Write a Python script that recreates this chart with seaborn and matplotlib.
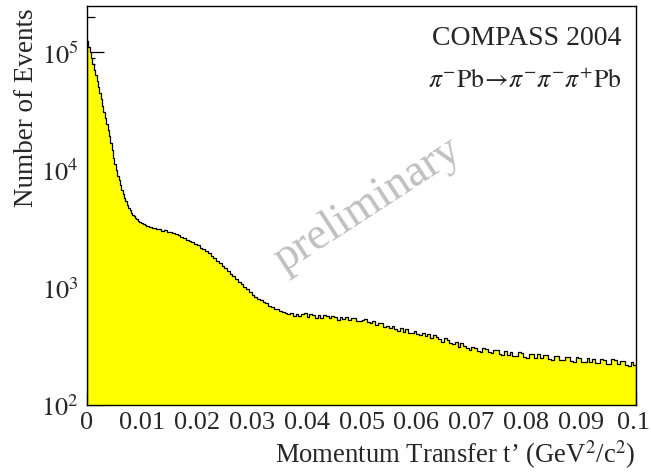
import numpy as np
import pandas as pd
import matplotlib
matplotlib.use("Agg")
import matplotlib.pyplot as plt
import seaborn as sns
from matplotlib.ticker import MultipleLocator, LogLocator, NullFormatter

# t' histogram: fine bins (0.00025) over the steep coherent peak,
# 0.0005 bins for the rest of the range up to 0.1 GeV^2/c^2
t_min, t_split, t_max = 0.0, 0.012, 0.1
n_fine, n_coarse = 48, 176

events_fine = [
    124700, 111400, 99500, 88900, 79600, 71100, 63500, 56800, 50700, 45200,
    40300, 35200, 31200, 27700, 24700, 21800, 19200, 16900, 14700, 12700,
    11100, 9890, 8910, 8130, 7410, 6760, 6210, 5770, 5380, 5050,
    4760, 4530, 4330, 4150, 4010, 3880, 3780, 3690, 3620, 3560,
    3510, 3450, 3400, 3350, 3310, 3270, 3240, 3210,
]

events_coarse = [
    # 0.012 - 0.020
    3190, 3140, 3110, 3030, 3050, 2970, 2980, 2910, 2870, 2780,
    2680, 2650, 2540, 2500, 2410, 2360,
    # 0.020 - 0.037
    2290, 2170, 2140, 2050, 1950, 1840, 1790, 1690, 1610, 1530,
    1450, 1380, 1310, 1240, 1180, 1120, 1060, 1010, 960, 922,
    870, 836, 798, 780, 748, 732, 700, 686, 660, 650,
    628, 620, 600, 590,
    # 0.037 - 0.100
    606, 574, 597, 566, 590, 602, 560, 591, 579, 553,
    583, 553, 579, 571, 545, 574, 561, 530, 563, 536,
    562, 528, 552, 546, 520, 516, 533, 541, 503, 494,
    515, 482, 500, 494, 464, 470, 455, 467, 441, 425,
    449, 419, 440, 409, 413, 430, 398, 392, 412, 383,
    401, 371, 390, 380, 361, 346, 369, 355, 338, 329,
    345, 314, 334, 320, 304, 293, 313, 307, 287, 283,
    304, 299, 280, 277, 296, 291, 270, 265, 287, 266,
    284, 262, 259, 280, 277, 255, 253, 274, 271, 251,
    270, 249, 267, 265, 246, 243, 262, 260, 240, 239,
    257, 255, 237, 234, 254, 252, 233, 232, 249, 230,
    248, 228, 226, 246, 243, 224, 222, 244, 240, 221,
    238, 236, 218, 216, 233, 219,
]

x_ticks = [0.0, 0.01, 0.02, 0.03, 0.04, 0.05, 0.06, 0.07, 0.08, 0.09, 0.1]
x_tick_labels = ["0", "0.01", "0.02", "0.03", "0.04", "0.05",
                 "0.06", "0.07", "0.08", "0.09", "0.1"]
y_ticks = [1e2, 1e3, 1e4, 1e5]
y_tick_labels = [r"$10^{2}$", r"$10^{3}$", r"$10^{4}$", r"$10^{5}$"]

edges = np.concatenate([np.linspace(t_min, t_split, n_fine + 1),
                        np.linspace(t_split, t_max, n_coarse + 1)[1:]])
centers = 0.5 * (edges[:-1] + edges[1:])
df = pd.DataFrame({"t": centers, "events": events_fine + events_coarse})

sns.set_style("ticks")
plt.rcParams["font.family"] = ["Liberation Serif", "DejaVu Serif"]
plt.rcParams["mathtext.fontset"] = "stix"

fig = plt.figure(figsize=(6.51, 4.77), dpi=100)
ax = fig.add_axes([87 / 651, 1 - 406 / 477, (636 - 87) / 651, (406 - 7) / 477])

sns.histplot(data=df, x="t", weights="events", bins=edges.tolist(),
             element="step", fill=True, color="#ffff00", alpha=1.0,
             edgecolor="black", linewidth=0.9, ax=ax)

ax.set_yscale("log")
ax.set_xlim(t_min, t_max)
ax.set_ylim(100, 2.47e5)
ax.set_xlabel("")
ax.set_ylabel("")

ax.set_xticks(x_ticks, x_tick_labels)
ax.xaxis.set_minor_locator(MultipleLocator(0.002))
ax.set_yticks(y_ticks, y_tick_labels)
ax.yaxis.set_minor_locator(LogLocator(base=10, subs=np.arange(2, 10)))
ax.yaxis.set_minor_formatter(NullFormatter())

ax.tick_params(which="both", direction="in", top=False, right=False,
               width=0.9, color="black", labelsize=19)
ax.tick_params(axis="x", which="major", length=8.5, pad=4)
ax.tick_params(axis="x", which="minor", length=4.5)
ax.tick_params(axis="y", which="major", length=12, pad=6)
ax.tick_params(axis="y", which="minor", length=6)
for side in ["left", "right", "top", "bottom"]:
    ax.spines[side].set_visible(True)
    ax.spines[side].set_linewidth(1.0)
    ax.spines[side].set_color("black")
# the last label sits on the right edge of the frame; keep it inside the canvas
ax.get_xticklabels()[-1].set_horizontalalignment("right")
ax.get_xticklabels()[-1].set_x(0.1)
from matplotlib.transforms import ScaledTranslation
last = ax.get_xticklabels()[-1]
last.set_transform(last.get_transform() + ScaledTranslation(14 / 100, 0, fig.dpi_scale_trans))

fig.text(636 / 651, 1 - 463 / 477,
         r"Momentum Transfer t’ (GeV$^{2}$/c$^{2}$)",
         ha="right", va="baseline", fontsize=19.2)
fig.text(33 / 651, 1 - 8 / 477, "Number of Events", rotation=90,
         rotation_mode="anchor", ha="right", va="baseline", fontsize=19.5)

ax.text(0.973, 0.905, "COMPASS 2004", transform=ax.transAxes,
        ha="right", va="baseline", fontsize=20)
ax.text(0.973, 0.797,
        r"$\pi^{-}\mathrm{Pb}\!\rightarrow\!\pi^{-}\pi^{-}\pi^{+}\mathrm{Pb}$",
        transform=ax.transAxes, ha="right", va="baseline", fontsize=18.5)

ax.text(367 / 651, 1 - 205 / 477, "preliminary", transform=fig.transFigure,
        rotation=33, rotation_mode="anchor", ha="center", va="center",
        fontsize=33, color="#c0c0c0")

fig.savefig("out.png", dpi=100)
